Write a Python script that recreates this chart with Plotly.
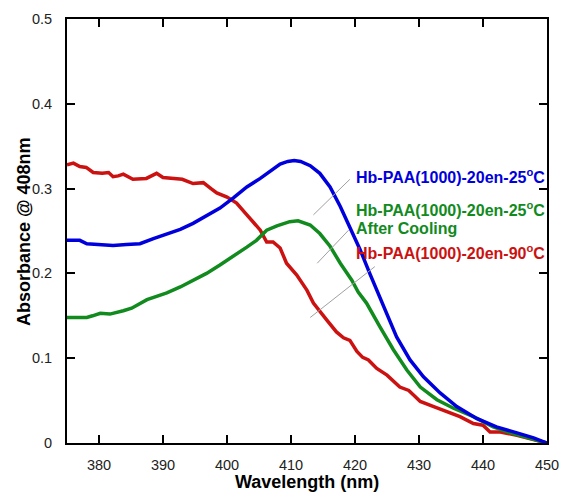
import plotly.graph_objects as go

# ---- data ----
red_x = [375.0, 376.0, 377.0, 378.0, 379.1, 380.5, 381.5, 382.2, 383.0, 383.8, 385.3, 386.5, 387.4, 388.2,
         389.0, 390.0, 391.5, 393.0, 394.7, 396.3, 397.5, 398.4, 400.0, 401.5, 403.0, 404.2, 405.2, 406.2,
         407.2, 408.3, 409.3, 410.9, 412.5, 413.5, 414.5, 415.6, 417.1, 418.2, 419.2, 420.3, 421.2, 422.1,
         423.4, 425.0, 427.0, 428.4, 429.1, 430.2, 432.3, 434.3, 436.4, 438.5, 440.0, 441.1, 442.7, 445.3,
         447.9, 450.0]
red_y = [0.328, 0.330, 0.326, 0.325, 0.319, 0.318, 0.319, 0.314, 0.315, 0.317, 0.311, 0.312, 0.312, 0.315,
         0.318, 0.313, 0.312, 0.311, 0.306, 0.307, 0.300, 0.295, 0.290, 0.283, 0.270, 0.260, 0.251, 0.237,
         0.237, 0.230, 0.212, 0.198, 0.180, 0.165, 0.155, 0.145, 0.131, 0.124, 0.121, 0.108, 0.101, 0.098,
         0.088, 0.080, 0.066, 0.062, 0.057, 0.049, 0.043, 0.037, 0.031, 0.023, 0.021, 0.013, 0.013, 0.009,
         0.004, 0.000]

blue_x = [375.0, 377.0, 378.1, 380.2, 382.2, 384.3, 386.4, 388.5, 390.6, 392.7, 394.7, 396.8, 398.9, 401.0,
          403.1, 405.2, 406.7, 408.3, 409.5, 410.5, 411.5, 413.0, 414.5, 416.1, 417.7, 419.2, 420.8, 422.3,
          423.4, 424.4, 426.5, 428.6, 430.7, 433.3, 435.9, 439.0, 442.1, 445.3, 447.9, 450.0]
blue_y = [0.239, 0.239, 0.235, 0.234, 0.233, 0.234, 0.235, 0.241, 0.247, 0.252, 0.259, 0.268, 0.277, 0.289,
          0.302, 0.312, 0.320, 0.329, 0.332, 0.333, 0.332, 0.327, 0.318, 0.302, 0.279, 0.255, 0.228, 0.200,
          0.180, 0.161, 0.125, 0.098, 0.078, 0.059, 0.043, 0.029, 0.019, 0.012, 0.006, 0.000]

green_x = [375.0, 376.5, 378.1, 379.0, 380.2, 381.7, 383.0, 383.8, 385.1, 386.4, 387.5, 389.0, 390.6, 392.7,
           394.7, 396.8, 398.9, 401.0, 403.1, 404.6, 406.2, 407.8, 409.8, 411.1, 412.0, 413.0, 414.5, 416.1,
           417.7, 419.5, 420.5, 421.8, 423.9, 426.0, 428.1, 430.2, 432.8, 435.4, 438.5, 441.6, 444.7, 447.9,
           450.0]
green_y = [0.148, 0.148, 0.148, 0.150, 0.153, 0.152, 0.154, 0.156, 0.159, 0.165, 0.169, 0.173, 0.177, 0.184,
           0.192, 0.200, 0.210, 0.220, 0.231, 0.239, 0.251, 0.256, 0.261, 0.262, 0.260, 0.257, 0.247, 0.232,
           0.212, 0.192, 0.178, 0.165, 0.137, 0.110, 0.086, 0.066, 0.051, 0.041, 0.031, 0.019, 0.011, 0.004,
           0.000]

x_ticks = [380, 390, 400, 410, 420, 430, 440, 450]
y_ticks = [0, 0.1, 0.2, 0.3, 0.4, 0.5]
y_tick_text = ["0", "0.1", "0.2", "0.3", "0.4", "0.5"]

x_title = "Wavelength (nm)"
y_title = "Absorbance @ 408nm"

labels = ["Hb-PAA(1000)-20en-25<sup>o</sup>C",
          "Hb-PAA(1000)-20en-25<sup>o</sup>C",
          "After Cooling",
          "Hb-PAA(1000)-20en-90<sup>o</sup>C"]
label_y = [0.315, 0.276, 0.253, 0.225]
label_x = 419.9

# leader lines (x0, y0, x1, y1) in data units
leaders = [(419.2, 0.311, 413.5, 0.269),
           (419.0, 0.251, 414.1, 0.212),
           (423.1, 0.208, 413.0, 0.148)]

BLUE = "#0000DD"
GREEN = "#118A1E"
RED = "#CC1111"
label_colors = [BLUE, GREEN, GREEN, RED]

FONT = "Liberation Sans, Arial, sans-serif"

fig = go.Figure()
for xs, ys, c in [(red_x, red_y, RED), (green_x, green_y, GREEN), (blue_x, blue_y, BLUE)]:
    fig.add_trace(go.Scatter(x=xs, y=ys, mode="lines", line=dict(color=c, width=3.5),
                             showlegend=False, hoverinfo="skip"))

for (x0, y0, x1, y1) in leaders:
    fig.add_shape(type="line", x0=x0, y0=y0, x1=x1, y1=y1, xref="x", yref="y",
                  line=dict(color="#a0a0a0", width=1))

for t, yv, c in zip(labels, label_y, label_colors):
    fig.add_annotation(x=label_x, y=yv, xref="x", yref="y", text="<b>" + t + "</b>",
                       showarrow=False, xanchor="left", yanchor="middle",
                       font=dict(family=FONT, size=16, color=c))

# axis titles as annotations for precise placement
fig.add_annotation(x=0.5, y=-0.093, xref="paper", yref="paper", text="<b>" + x_title + "</b>",
                   showarrow=False, xanchor="center", yanchor="middle",
                   font=dict(family=FONT, size=18, color="black"))
fig.add_annotation(x=-0.0896, y=0.5, xref="paper", yref="paper", text="<b>" + y_title + "</b>",
                   showarrow=False, xanchor="center", yanchor="middle", textangle=-90,
                   font=dict(family=FONT, size=18, color="black"))

axis_common = dict(showline=True, linewidth=2, linecolor="black", mirror="ticks",
                   ticks="inside", ticklen=8, tickwidth=2, tickcolor="black",
                   showgrid=False, zeroline=False,
                   tickfont=dict(family=FONT, size=14.5, color="#222222"))

fig.update_xaxes(range=[375, 450], tickvals=x_ticks, ticklabelstandoff=8, **axis_common)
fig.update_yaxes(range=[0, 0.5], tickvals=y_ticks, ticktext=y_tick_text, ticklabelstandoff=10,
                 **axis_common)

fig.update_layout(width=563, height=494, margin=dict(l=67, r=16, t=19, b=51, autoexpand=False),
                  plot_bgcolor="white", paper_bgcolor="white",
                  font=dict(family=FONT))

fig.write_html("out.html", config={"displayModeBar": False},
               post_script="document.body.style.margin='0';document.body.style.padding='0';")
